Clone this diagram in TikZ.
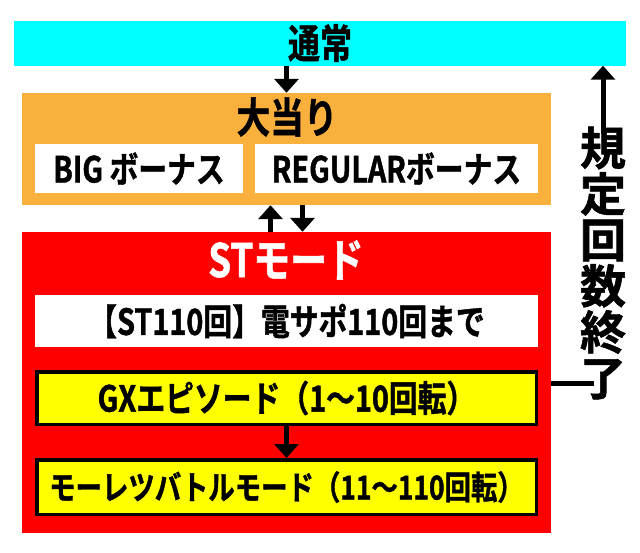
\documentclass[tikz,border=0pt]{standalone}
\usepackage{fontspec}
\setmainfont{Noto Sans CJK JP Bold}[FakeStretch=0.8,FakeBold=1.2]
\newfontfamily\tatefont{Noto Sans CJK JP Bold}[FakeBold=1.2]
\usetikzlibrary{arrows.meta}

\definecolor{tsujocyan}{HTML}{00FFFF}
\definecolor{oatariorange}{HTML}{FAB03D}
\definecolor{stred}{HTML}{FF0000}
\definecolor{gxyellow}{HTML}{FFFF00}

\tikzset{
  arr/.style={line width=5pt,-{Triangle[width=24pt,length=14pt]}},
  box/.style={rectangle,inner sep=0pt,anchor=center},
  whitebox/.style={box,fill=white,minimum height=49pt},
  yellowbox/.style={box,fill=gxyellow,draw=black,line width=3.5pt,minimum width=499.5pt}
}

\begin{document}
\begin{tikzpicture}[x=1pt,y=-1pt]
            \useasboundingbox (0,0) rectangle (640,552);

            % normal state
            \node[box,fill=tsujocyan,minimum width=612pt,minimum height=45pt,
                  font=\fontsize{40}{40}\selectfont] (tsujo) at (320,43) {通常};

            % big hit
            \node[box,fill=oatariorange,minimum width=529pt,minimum height=112pt] (oatari) at (286.5,149) {};
            \node[font=\fontsize{42}{42}\selectfont,inner sep=0pt] (oatarititle) at (287,117) {大当り};
            \node[whitebox,minimum width=208pt,font=\fontsize{36}{36}\selectfont] (big) at (139,168.5) {BIG ボーナス};
            \node[whitebox,minimum width=283pt,font=\fontsize{36}{36}\selectfont] (regular) at (396.5,168.5) {REGULARボーナス};

            % ST mode
            \node[box,fill=stred,minimum width=529pt,minimum height=301pt] (st) at (286.5,382.5) {};
            \node[text=white,font=\fontsize{46}{46}\selectfont,inner sep=0pt] (sttitle) at (286,260) {STモード};
            \node[whitebox,minimum width=503pt,minimum height=52pt,font=\fontsize{36}{36}\selectfont] (densapo) at (286.5,321) {【ST110回】電サポ110回まで};
            \node[yellowbox,minimum height=52.5pt,font=\fontsize{36}{36}\selectfont] (gx) at (286.5,398) {GXエピソード（1～10回転）};
            \node[yellowbox,minimum height=54.5pt,font=\fontsize{33}{33}\selectfont] (moretsu) at (286.5,487) {モーレツバトルモード（11～110回転）};

            % end of ST
            \node[font=\tatefont\fontsize{46}{46}\selectfont,align=center,inner sep=0pt] (kitei) at (603,263) {規\\定\\回\\数\\終\\了};
            \coordinate (ryo) at (594,383);

            \draw[arr] (tsujo.south -| oatari) to (oatari.north);
            \draw[arr] ([xshift=-16pt]st.north) to ([xshift=-16pt]oatari.south);
            \draw[arr] ([xshift=16pt]oatari.south) to ([xshift=16pt]st.north);
            \draw[arr] (gx.south) to (moretsu.north);
            \draw[line width=5pt] (st.east |- ryo) to (ryo);
            \draw[arr] ([yshift=-8pt]kitei.north) to (kitei.north |- tsujo.south);
\end{tikzpicture}
\end{document}
